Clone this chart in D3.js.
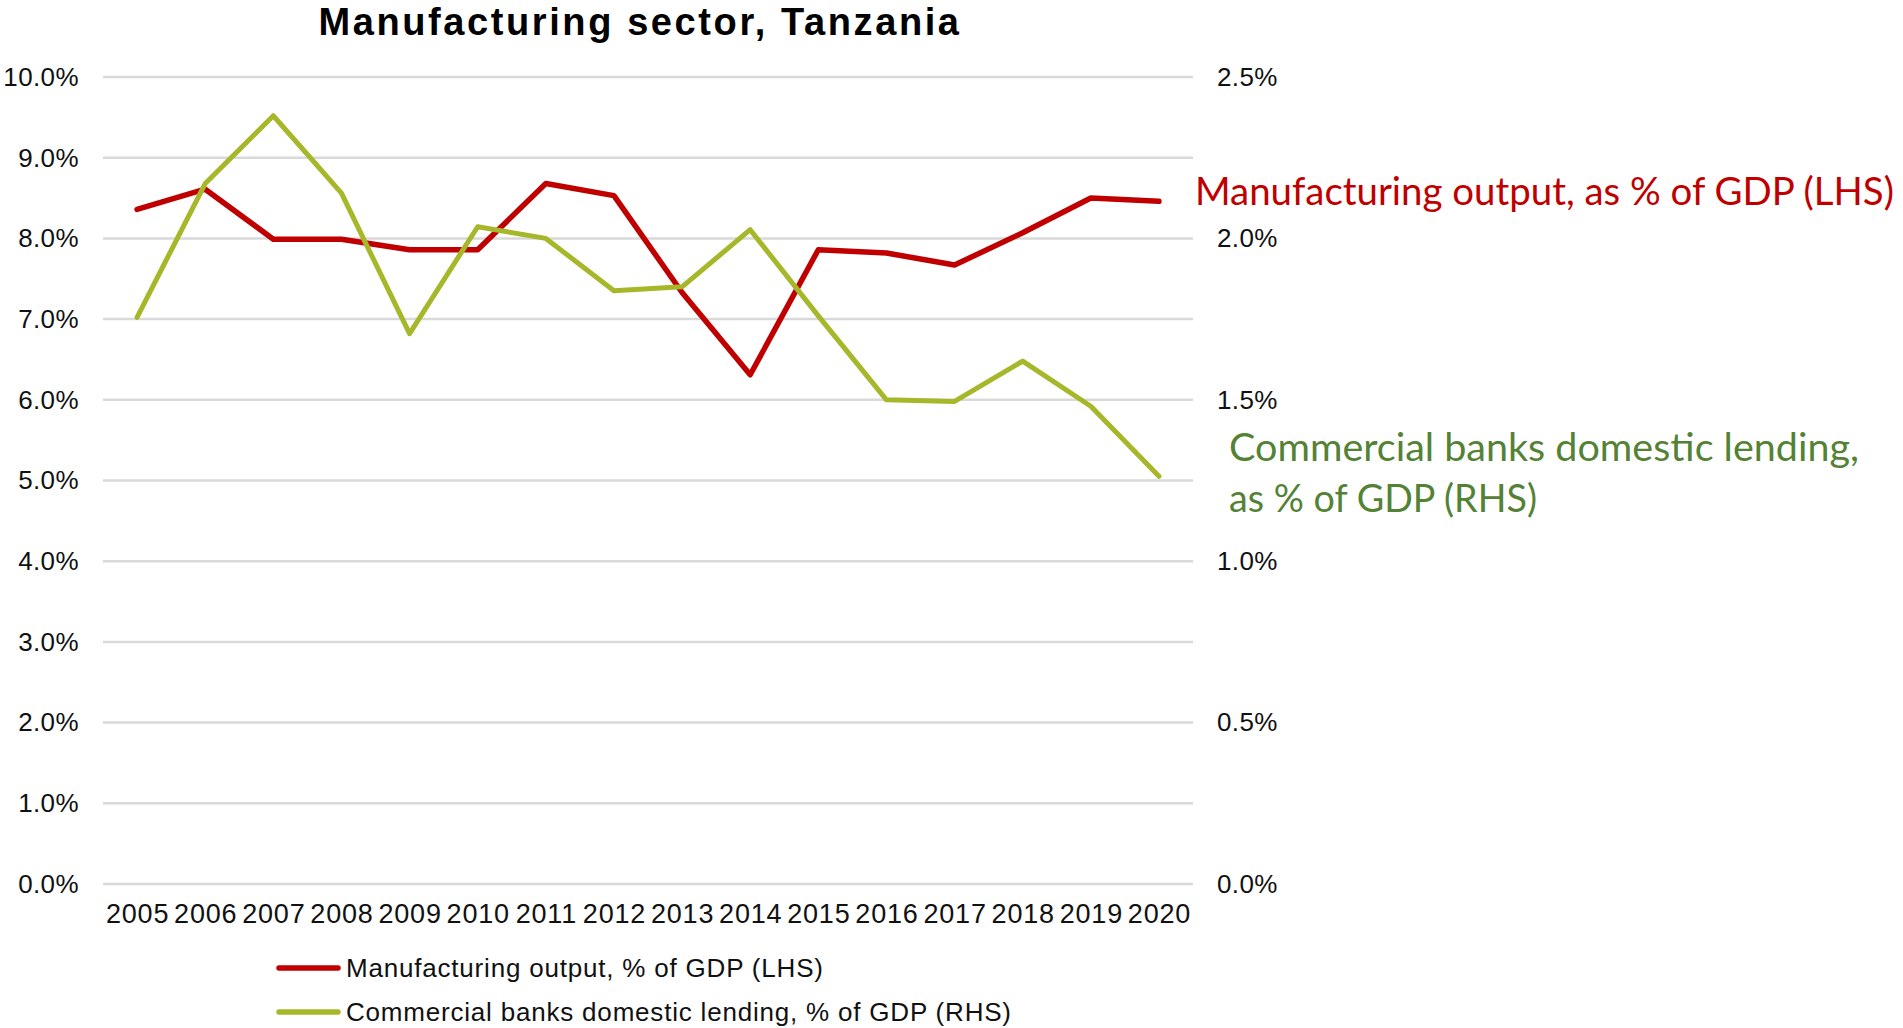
<!DOCTYPE html>
<html>
<head>
<meta charset="utf-8">
<script src="https://cdn.jsdelivr.net/npm/d3@7"></script>
<style>
  html, body { margin: 0; padding: 0; background: #ffffff; }
  svg { display: block; }
</style>
</head>
<body>
<script>
// Years on the category axis
const years = ["2005","2006","2007","2008","2009","2010","2011","2012",
               "2013","2014","2015","2016","2017","2018","2019","2020"];

// Manufacturing output, % of GDP (left axis)
const manufacturing = [8.36, 8.61, 7.99, 7.99, 7.86, 7.86, 8.68, 8.53,
                       7.33, 6.31, 7.86, 7.82, 7.67, 8.07, 8.50, 8.46];

// Commercial banks domestic lending, % of GDP (right axis)
const lending = [1.755, 2.17, 2.38, 2.14, 1.705, 2.036, 2.00, 1.838,
                 1.85, 2.027, 1.76, 1.50, 1.495, 1.62, 1.48, 1.263];

// Axis ticks
const leftTicks  = [0, 1, 2, 3, 4, 5, 6, 7, 8, 9, 10];
const rightTicks = [0, 0.5, 1.0, 1.5, 2.0, 2.5];

const titleText = "Manufacturing sector, Tanzania";
const seriesNames = ["Manufacturing output, % of GDP (LHS)",
                     "Commercial banks domestic lending, % of GDP (RHS)"];
const noteRed = "Manufacturing output, as % of GDP (LHS)";
const noteGreen = ["Commercial banks domestic lending,", "as % of GDP (RHS)"];

const W = 1903, H = 1028;
const RED = "#C00000", GREEN = "#A6B82A", NOTE_GREEN = "#548235";
const AXIS_FONT = "'Liberation Sans', Arial, sans-serif";
const NOTE_FONT = "Lato, 'Open Sans', sans-serif";

const svg = d3.select("body").append("svg")
  .attr("width", W).attr("height", H);

const plot = { left: 103, right: 1193, top: 77, bottom: 884 };

const x = d3.scalePoint().domain(years)
  .range([plot.left, plot.right]).padding(0.5);
const yL = d3.scaleLinear().domain([0, 10]).range([plot.bottom, plot.top]);
const yR = d3.scaleLinear().domain([0, 2.5]).range([plot.bottom, plot.top]);

// Horizontal gridlines
svg.append("g").selectAll("line")
  .data(leftTicks).join("line")
  .attr("x1", plot.left).attr("x2", plot.right)
  .attr("y1", d => yL(d)).attr("y2", d => yL(d))
  .attr("stroke", "#D9D9D9").attr("stroke-width", 2.5);

function styleAxis(size, spacing) {
  return g => {
    g.select(".domain").remove();
    g.selectAll("text")
      .attr("font-family", AXIS_FONT)
      .attr("font-size", size)
      .attr("letter-spacing", spacing)
      .attr("fill", "#111");
  };
}

// Left axis
svg.append("g")
  .attr("transform", `translate(${plot.left},0)`)
  .call(d3.axisLeft(yL).tickValues(leftTicks).tickSize(0).tickPadding(24)
    .tickFormat(d => d.toFixed(1) + "%"))
  .call(styleAxis(26, 0.4));

// Right axis
svg.append("g")
  .attr("transform", `translate(${plot.right},0)`)
  .call(d3.axisRight(yR).tickValues(rightTicks).tickSize(0).tickPadding(24)
    .tickFormat(d => d.toFixed(1) + "%"))
  .call(styleAxis(26, 0.4));

// Bottom axis
svg.append("g")
  .attr("transform", `translate(0,${plot.bottom})`)
  .call(d3.axisBottom(x).tickSize(0).tickPadding(20))
  .call(styleAxis(27, 0.8));

// Series lines (lending drawn on top)
const lineL = d3.line().x((d, i) => x(years[i])).y(d => yL(d));
const lineR = d3.line().x((d, i) => x(years[i])).y(d => yR(d));

svg.append("path").datum(manufacturing)
  .attr("d", lineL).attr("fill", "none")
  .attr("stroke", RED).attr("stroke-width", 5.5)
  .attr("stroke-linejoin", "round").attr("stroke-linecap", "round");

svg.append("path").datum(lending)
  .attr("d", lineR).attr("fill", "none")
  .attr("stroke", GREEN).attr("stroke-width", 5)
  .attr("stroke-linejoin", "round").attr("stroke-linecap", "round");

// Title
svg.append("text")
  .attr("x", 640).attr("y", 35)
  .attr("text-anchor", "middle")
  .attr("font-family", AXIS_FONT).attr("font-weight", "bold")
  .attr("font-size", 38).attr("letter-spacing", 2.6).attr("fill", "#000")
  .text(titleText);

// Legend
const legend = svg.append("g").selectAll("g")
  .data(seriesNames).join("g")
  .attr("transform", (d, i) => `translate(276,${968 + i * 44})`);
legend.append("line")
  .attr("x1", 3).attr("x2", 62).attr("y1", 0).attr("y2", 0)
  .attr("stroke", (d, i) => i === 0 ? RED : GREEN)
  .attr("stroke-width", 5.5).attr("stroke-linecap", "round");
legend.append("text")
  .attr("x", 70).attr("y", 0).attr("dy", "0.35em")
  .attr("font-family", AXIS_FONT).attr("font-size", 26)
  .attr("letter-spacing", 0.8)
  .attr("fill", "#111")
  .text(d => d);

// Side notes
svg.append("text")
  .attr("x", 1195).attr("y", 192).attr("dy", "0.35em")
  .attr("font-family", NOTE_FONT)
  .attr("font-size", 38.4).attr("fill", RED)
  .text(noteRed);

const greenWidths = [630, 308];
svg.append("g").selectAll("text")
  .data(noteGreen).join("text")
  .attr("x", 1229).attr("y", (d, i) => 447 + i * 51).attr("dy", "0.35em")
  .attr("font-family", NOTE_FONT)
  .attr("font-size", 39).attr("fill", NOTE_GREEN)
  .attr("textLength", (d, i) => greenWidths[i])
  .attr("lengthAdjust", "spacingAndGlyphs")
  .text(d => d);
</script>
</body>
</html>
